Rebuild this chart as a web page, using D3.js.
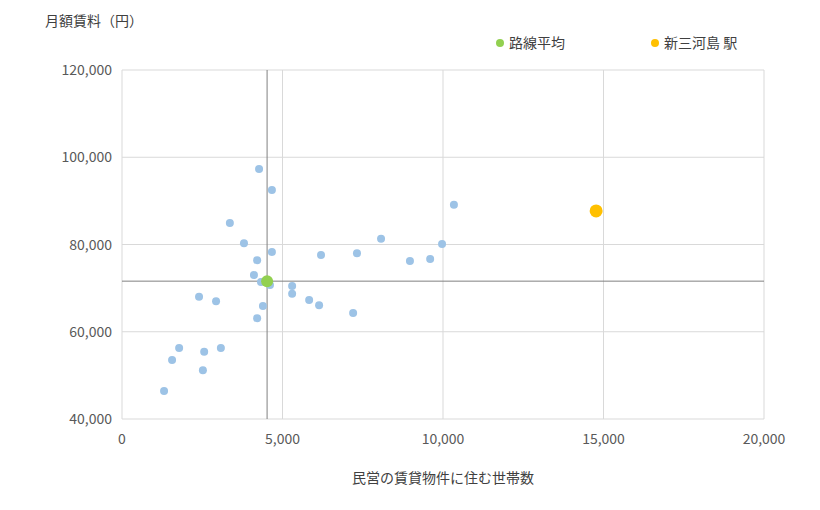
<!DOCTYPE html>
<html><head><meta charset="utf-8">
<script src="https://cdn.jsdelivr.net/npm/d3@7"></script>
<style>body{margin:0;background:#fff;font-family:"Noto Sans CJK JP","Noto Sans",sans-serif;}</style>
</head><body><svg id="chart" width="820" height="510"></svg>
<script>
const households = [1310,1560,1780,2520,2560,3080,2400,2930,3360,3800,4270,4670,4670,4210,4110,4330,4610,4390,4210,5300,5300,5830,6140,6200,7320,7200,8070,8970,9600,9970,10340];
const rents = [46400,53500,56300,51200,55400,56300,68000,67000,84900,80300,97300,92500,78300,76400,73000,71400,70700,65900,63100,70500,68700,67300,66100,77600,78000,64300,81300,76200,76700,80100,89100];
const lineAvg = {x: 4520, y: 71600};
const station = {x: 14770, y: 87700};
const xTicks = [0,5000,10000,15000,20000];
const yTicks = [40000,60000,80000,100000,120000];

const svg = d3.select("#chart");
const x = d3.scaleLinear().domain([0,20000]).range([122,764]);
const y = d3.scaleLinear().domain([40000,120000]).range([419,70]);
const fmt = d3.format(",");

svg.append("g").selectAll("line").data(yTicks).join("line")
  .attr("x1",122).attr("x2",764).attr("y1",d=>y(d)).attr("y2",d=>y(d)).attr("stroke","#d9d9d9");
svg.append("g").selectAll("line").data(xTicks).join("line")
  .attr("y1",70).attr("y2",419).attr("x1",d=>x(d)).attr("x2",d=>x(d)).attr("stroke","#d9d9d9");

svg.append("g").selectAll("text").data(yTicks).join("text")
  .attr("x",112).attr("y",d=>y(d)+5).attr("text-anchor","end").attr("font-size",14).attr("fill","#595959").text(fmt);
svg.append("g").selectAll("text").data(xTicks).join("text")
  .attr("x",d=>x(d)).attr("y",444).attr("text-anchor","middle").attr("font-size",14).attr("fill","#595959").text(fmt);

svg.append("line").attr("x1",x(lineAvg.x)).attr("x2",x(lineAvg.x)).attr("y1",70).attr("y2",419).attr("stroke","#808080");
svg.append("line").attr("x1",122).attr("x2",764).attr("y1",y(lineAvg.y)).attr("y2",y(lineAvg.y)).attr("stroke","#808080");

svg.append("g").selectAll("circle").data(households).join("circle")
  .attr("cx",d=>x(d)).attr("cy",(d,i)=>y(rents[i])).attr("r",4).attr("fill","#9dc3e6");
svg.append("circle").attr("cx",x(lineAvg.x)).attr("cy",y(lineAvg.y)).attr("r",6).attr("fill","#92d050");
svg.append("circle").attr("cx",x(station.x)).attr("cy",y(station.y)).attr("r",6.5).attr("fill","#ffc000");

svg.append("text").attr("x",45).attr("y",26).attr("font-size",14).attr("fill","#404040").text("月額賃料（円）");
svg.append("text").attr("x",443).attr("y",483).attr("text-anchor","middle").attr("font-size",14).attr("fill","#404040").text("民営の賃貸物件に住む世帯数");

const legend = [["路線平均","#92d050",500],["新三河島 駅","#ffc000",655]];
legend.forEach(([t,c,lx])=>{
  svg.append("circle").attr("cx",lx).attr("cy",43).attr("r",4).attr("fill",c);
  svg.append("text").attr("x",lx+9).attr("y",48).attr("font-size",14).attr("fill","#404040").text(t);
});
</script></body></html>
